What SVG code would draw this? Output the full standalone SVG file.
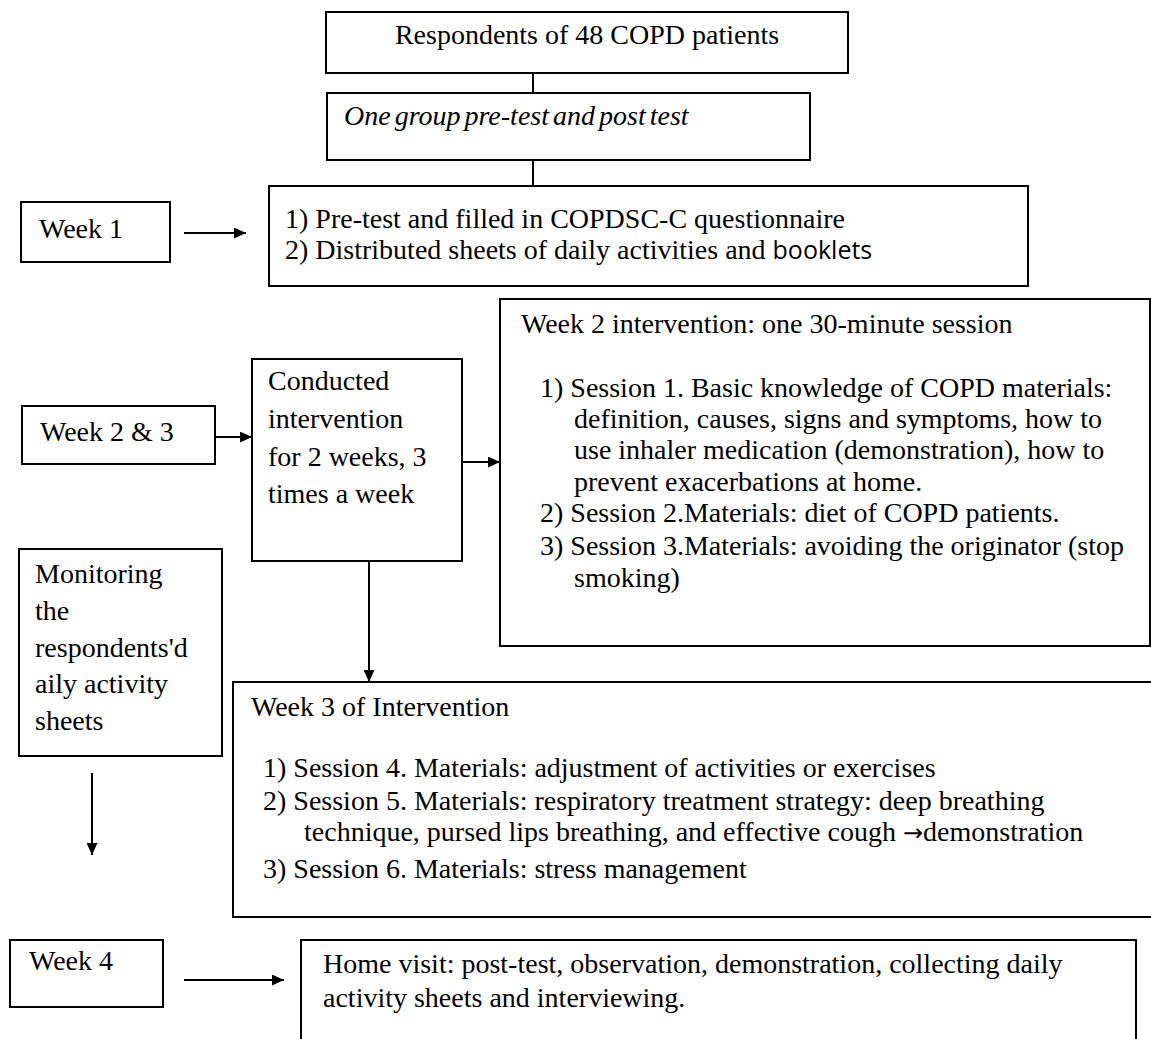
<svg xmlns="http://www.w3.org/2000/svg" width="1151" height="1039" viewBox="0 0 1151 1039">
<style>
.box{fill:#fff;stroke:#000;stroke-width:2}
.t{font-family:"Liberation Serif","Times New Roman",serif;font-size:28px;fill:#000}
.it{font-style:italic}
.sans{font-family:"Open Sans","Liberation Sans",sans-serif;font-size:25px}
.arr{font-family:"DejaVu Sans",sans-serif;font-size:24px}
.ln{stroke:#000;stroke-width:2;fill:none}
</style>
<defs>
<marker id="ah" markerUnits="userSpaceOnUse" markerWidth="12" markerHeight="11" refX="12" refY="5.5" orient="auto">
<path d="M0,0 L12,5.5 L0,11 z" fill="#000"/>
</marker>
</defs>
<rect width="1151" height="1039" fill="#fff"/>
<g id="connectors">
<line class="ln" x1="533" y1="73" x2="533" y2="93"/>
<line class="ln" x1="533" y1="160" x2="533" y2="186"/>
<line class="ln" x1="184" y1="233" x2="246" y2="233" marker-end="url(#ah)"/>
<line class="ln" x1="215" y1="437" x2="252" y2="437" marker-end="url(#ah)"/>
<line class="ln" x1="462" y1="462" x2="500" y2="462" marker-end="url(#ah)"/>
<line class="ln" x1="369" y1="561" x2="369" y2="682" marker-end="url(#ah)"/>
<line class="ln" x1="92" y1="773" x2="92" y2="855" marker-end="url(#ah)"/>
<line class="ln" x1="184" y1="980" x2="284" y2="980" marker-end="url(#ah)"/>
</g>
<g id="respondents">
<rect class="box" x="326" y="12" width="522" height="61"/>
<text class="t" x="587" y="44" text-anchor="middle">Respondents of 48 COPD patients</text>
</g>
<g id="design">
<rect class="box" x="327" y="93" width="483" height="67"/>
<text class="t it" x="344" y="125" word-spacing="-3">One group pre-test and post test</text>
</g>
<g id="week1">
<rect class="box" x="21" y="202" width="149" height="60"/>
<text class="t" x="39" y="238">Week 1</text>
</g>
<g id="week1-tasks">
<rect class="box" x="269" y="186" width="759" height="100"/>
<text class="t" x="285" y="228">1) Pre-test and filled in COPDSC-C questionnaire</text>
<text class="t" x="285" y="259">2) Distributed sheets of daily activities and <tspan class="sans">booklets</tspan></text>
</g>
<g id="week23">
<rect class="box" x="22" y="406" width="193" height="58"/>
<text class="t" x="40" y="441">Week 2 &amp; 3</text>
</g>
<g id="conducted">
<rect class="box" x="252" y="359" width="210" height="202"/>
<text class="t" x="268" y="390">Conducted</text>
<text class="t" x="268" y="428">intervention</text>
<text class="t" x="268" y="466">for 2 weeks, 3</text>
<text class="t" x="268" y="503">times a week</text>
</g>
<g id="week2">
<rect class="box" x="500" y="299" width="650" height="347"/>
<text class="t" x="521" y="333">Week 2 intervention: one 30-minute session</text>
<text class="t" x="540" y="397">1) Session 1. Basic knowledge of COPD materials:</text>
<text class="t" x="574" y="428">definition, causes, signs and symptoms, how to</text>
<text class="t" x="574" y="459">use inhaler medication (demonstration), how to</text>
<text class="t" x="574" y="491">prevent exacerbations at home.</text>
<text class="t" x="540" y="522">2) Session 2.Materials: diet of COPD patients.</text>
<text class="t" x="540" y="555">3) Session 3.Materials: avoiding the originator (stop</text>
<text class="t" x="574" y="587">smoking)</text>
</g>
<g id="monitoring">
<rect class="box" x="19" y="549" width="203" height="207"/>
<text class="t" x="35" y="583">Monitoring</text>
<text class="t" x="35" y="620">the</text>
<text class="t" x="35" y="657">respondents'd</text>
<text class="t" x="35" y="693">aily activity</text>
<text class="t" x="35" y="730">sheets</text>
</g>
<g id="week3">
<rect class="box" x="233" y="682" width="930" height="235"/>
<text class="t" x="251" y="716">Week 3 of Intervention</text>
<text class="t" x="263" y="777">1)  Session 4. Materials: adjustment of activities or exercises</text>
<text class="t" x="263" y="810">2)  Session 5. Materials: respiratory treatment strategy: deep breathing</text>
<text class="t" x="304" y="841">technique, pursed lips breathing, and effective cough <tspan class="arr">→</tspan>demonstration</text>
<text class="t" x="263" y="878">3)  Session 6. Materials: stress management</text>
</g>
<g id="week4">
<rect class="box" x="10" y="940" width="153" height="67"/>
<text class="t" x="29" y="970">Week 4</text>
</g>
<g id="homevisit">
<rect class="box" x="301" y="940" width="835" height="120"/>
<text class="t" x="323" y="973">Home visit: post-test, observation, demonstration, collecting daily</text>
<text class="t" x="323" y="1007">activity sheets and interviewing.</text>
</g>
</svg>
